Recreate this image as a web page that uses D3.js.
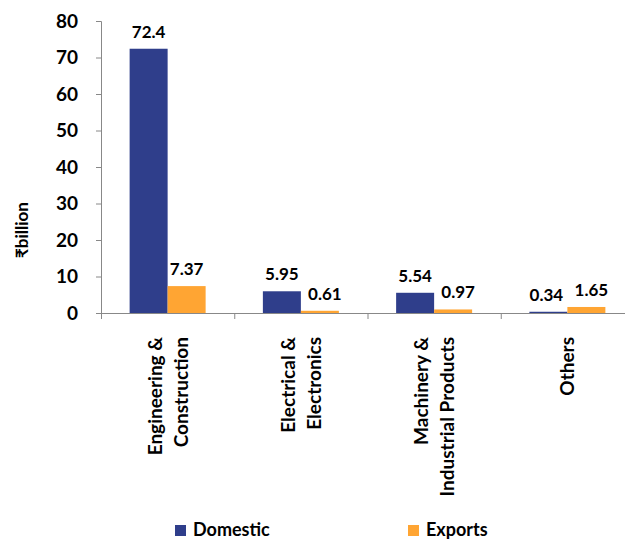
<!DOCTYPE html>
<html>
<head>
<meta charset="utf-8">
<script src="https://cdn.jsdelivr.net/npm/d3@7"></script>
<style>
  body { margin: 0; background: #fff; }
  text { font-family: Lato, "Open Sans", sans-serif; font-weight: bold; fill: #000; }
</style>
</head>
<body>
<div id="chart"></div>
<script>
// chart data
var categories = [["Engineering &", "Construction"], ["Electrical &", "Electronics"],
                  ["Machinery &", "Industrial Products"], ["Others"]];
var seriesNames = ["Domestic", "Exports"];
var domestic = [72.4, 5.95, 5.54, 0.34];
var exports_ = [7.37, 0.61, 0.97, 1.65];
var yTicks = [0, 10, 20, 30, 40, 50, 60, 70, 80];
var colors = ["#2F3E8B", "#FFA533"];

var margin = {top: 21, left: 101},
    width = 533,
    height = 292;

var svg = d3.select("#chart")
  .append("svg")
    .attr("width", 625)
    .attr("height", 541);

var g = svg.append("g")
    .attr("transform", "translate(" + margin.left + "," + margin.top + ")");

var keys = categories.map(function(d, i) { return i; });

var x = d3.scaleBand()
  .domain(keys)
  .range([0, width]);

var x1 = d3.scaleBand()
  .domain(seriesNames)
  .range([0, 76]);

var y = d3.scaleLinear()
  .domain([0, 80])
  .range([height, 0]);

// y axis
var yAxis = g.append("g")
  .call(d3.axisLeft(y).tickValues(yTicks).tickSize(5).tickPadding(18));
yAxis.select(".domain").attr("stroke", "#888");
yAxis.selectAll(".tick line").attr("stroke", "#888");
yAxis.selectAll("text").style("font-size", "19px");

// x axis
var xAxis = g.append("g")
  .attr("transform", "translate(0," + height + ")")
  .call(d3.axisBottom(x).tickSize(0).tickFormat(""));
xAxis.select(".domain").attr("stroke", "#888");

g.selectAll(".xtick")
  .data(keys)
  .enter()
  .append("line")
    .attr("x1", function(d) { return x(d) + 0.5; })
    .attr("x2", function(d) { return x(d) + 0.5; })
    .attr("y1", height)
    .attr("y2", height + 6)
    .attr("stroke", "#888");

// bars
var rows = keys.map(function(i) {
  return [{k: i, s: "Domestic", v: domestic[i], c: colors[0]},
          {k: i, s: "Exports", v: exports_[i], c: colors[1]}];
});

var groups = g.selectAll(".grp")
  .data(rows)
  .enter()
  .append("g")
    .attr("transform", function(d, i) {
      return "translate(" + (x(i) + (x.bandwidth() - 76) / 2) + ",0)";
    });

groups.selectAll("rect")
  .data(function(d) { return d; })
  .enter()
  .append("rect")
    .attr("x", function(d) { return x1(d.s); })
    .attr("y", function(d) { return y(d.v); })
    .attr("width", x1.bandwidth())
    .attr("height", function(d) { return height - y(d.v); })
    .attr("fill", function(d) { return d.c; });

// value labels; small values get nudged apart like the original
groups.selectAll(".lbl")
  .data(function(d) { return d; })
  .enter()
  .append("text")
    .attr("x", function(d) {
      var nudge = d.v < 2 ? (d.s == "Domestic" ? -2 : 5) : 0;
      return x1(d.s) + x1.bandwidth() / 2 + nudge;
    })
    .attr("y", function(d) { return y(d.v) - 11; })
    .attr("text-anchor", "middle")
    .style("font-size", "17px")
    .text(function(d) { return d.v; });

// category labels (rotated)
keys.forEach(function(i) {
  var lines = categories[i];
  var cx = x(i) + x.bandwidth() / 2;
  var t = g.append("text")
    .attr("transform", "translate(" + cx + "," + (height + 24) + ") rotate(-90)")
    .attr("text-anchor", "end")
    .style("font-size", "19px");
  lines.forEach(function(line, j) {
    var off = (j - (lines.length - 1) / 2) * 26 + 7;
    t.append("tspan")
      .attr("x", 0)
      .attr("y", off)
      .text(line);
  });
});

// y axis title
svg.append("text")
  .attr("transform", "translate(28,230) rotate(-90)")
  .attr("text-anchor", "middle")
  .style("font-size", "17px")
  .text("₹billion");

// legend
var legendX = [175, 408];
seriesNames.forEach(function(s, i) {
  svg.append("rect")
    .attr("x", legendX[i])
    .attr("y", 525)
    .attr("width", 11)
    .attr("height", 11)
    .attr("fill", colors[i]);
  svg.append("text")
    .attr("x", legendX[i] + 18)
    .attr("y", 536)
    .style("font-size", "18px")
    .text(s);
});
</script>
</body>
</html>
